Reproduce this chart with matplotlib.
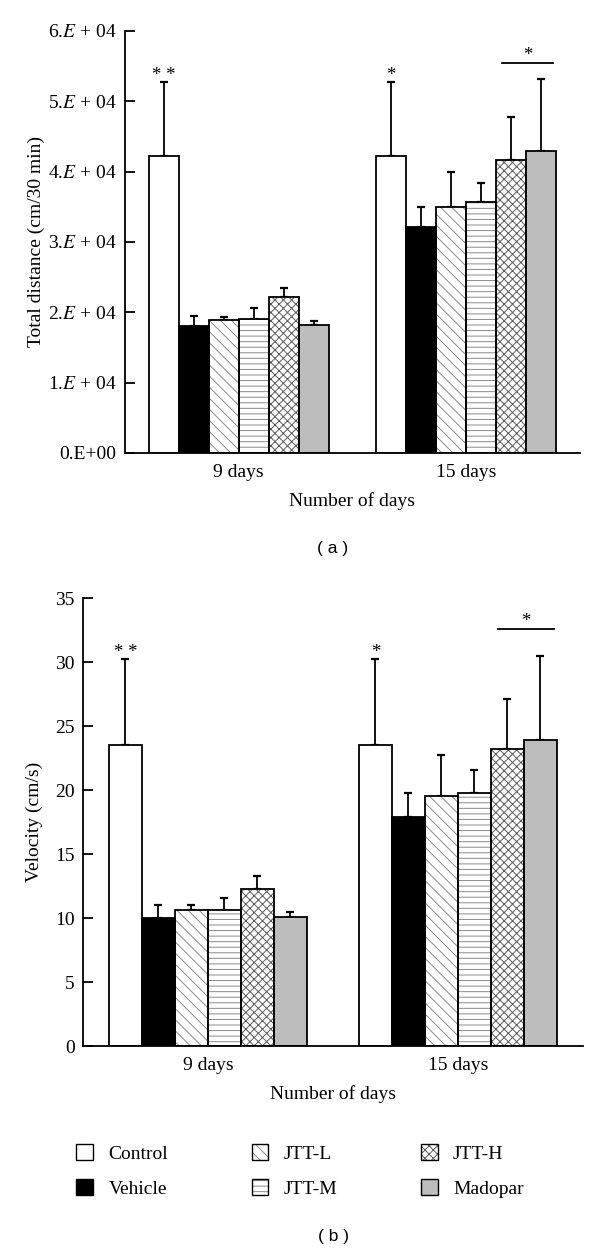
import matplotlib
matplotlib.use('Agg')
import matplotlib.pyplot as plt
import numpy as np
from matplotlib.patches import Patch

plt.rcParams['font.family'] = ['Liberation Serif', 'DejaVu Serif']
plt.rcParams['mathtext.fontset'] = 'stix'
plt.rcParams['hatch.linewidth'] = 0.7

# Data
groups = ['9 days', '15 days']
treatments = ['Control', 'Vehicle', 'JTT-L', 'JTT-M', 'JTT-H', 'Madopar']

# (a) total distance, cm/30 min
dist_9 = [42200, 18000, 18900, 19100, 22200, 18200]
dist_9_sd = [10500, 1500, 400, 1500, 1300, 600]
dist_15 = [42200, 32100, 35000, 35700, 41600, 42900]
dist_15_sd = [10500, 2900, 5000, 2700, 6200, 10300]

# (b) velocity, cm/s
vel_9 = [23.5, 10.0, 10.6, 10.6, 12.3, 10.1]
vel_9_sd = [6.7, 1.0, 0.4, 1.0, 1.0, 0.4]
vel_15 = [23.5, 17.9, 19.5, 19.8, 23.2, 23.9]
vel_15_sd = [6.7, 1.9, 3.2, 1.8, 3.9, 6.6]

dist_ticks = [0, 10000, 20000, 30000, 40000, 50000, 60000]
dist_ticklabels = ['0.E+00', '1.$E$ + 04', '2.$E$ + 04', '3.$E$ + 04',
                   '4.$E$ + 04', '5.$E$ + 04', '6.$E$ + 04']
vel_ticks = [0, 5, 10, 15, 20, 25, 30, 35]

# styles per treatment: face, hatch, hatch colour
faces = ['white', 'black', 'white', 'white', 'white', '#bdbdbd']
hatches = [None, None, '\\\\\\', '---', 'xxxx', None]
hatch_cols = ['none', 'none', '#8a8a8a', '#8a8a8a', '#5a5a5a', 'none']

width = 0.132
x = np.arange(len(groups))
FS = 14


def draw_panel(ax, vals_9, sd_9, vals_15, sd_15):
    means = np.array([vals_9, vals_15])
    sds = np.array([sd_9, sd_15])
    for i in range(len(treatments)):
        pos = x + (i - 2.5) * width
        ax.bar(pos, means[:, i], width, color=faces[i], hatch=hatches[i],
               edgecolor=hatch_cols[i], linewidth=0, zorder=2)
        ax.bar(pos, means[:, i], width, fill=False, edgecolor='black',
               linewidth=1.3, zorder=3)
        ax.errorbar(pos, means[:, i], yerr=[np.zeros(2), sds[:, i]], fmt='none',
                    ecolor='black', elinewidth=1.3, capsize=3, capthick=1.6, zorder=1)
    return means, sds


fig = plt.figure(figsize=(6, 12.53), dpi=100)

# ---- panel (a)
ax1 = fig.add_axes([0.2083, 0.6385, 0.7583, 0.3368])
m, s = draw_panel(ax1, dist_9, dist_9_sd, dist_15, dist_15_sd)
ax1.set_xlim(-0.5, 1.5)
ax1.set_ylim(0, 60000)
ax1.set_yticks(dist_ticks)
ax1.set_yticklabels(dist_ticklabels)
ax1.set_ylabel('Total distance (cm/30 min)', fontsize=FS, labelpad=2)

# ---- panel (b)
ax2 = fig.add_axes([0.1383, 0.1652, 0.8333, 0.3575])
m2, s2 = draw_panel(ax2, vel_9, vel_9_sd, vel_15, vel_15_sd)
ax2.set_xlim(-0.5, 1.5)
ax2.set_ylim(0, 35)
ax2.set_yticks(vel_ticks)
ax2.set_ylabel('Velocity (cm/s)', fontsize=FS, labelpad=9)

for ax, means, sds, bar_y in [(ax1, m, s, 55500), (ax2, m2, s2, 32.6)]:
    for sp in ['top', 'right']:
        ax.spines[sp].set_visible(False)
    ax.spines['left'].set_linewidth(1.3)
    ax.spines['bottom'].set_linewidth(1.3)
    ax.set_xticks(x)
    ax.set_xticklabels(groups, fontsize=FS)
    ax.tick_params(axis='x', length=0, pad=8)
    ax.tick_params(axis='y', direction='in', length=7, width=1.3, labelsize=FS, pad=6)
    ax.set_xlabel('Number of days', fontsize=FS, labelpad=8)
    # significance marks
    ax.annotate('* *', (x[0] - 2.5 * width, means[0, 0] + sds[0, 0]), xytext=(0, -1),
                textcoords='offset points', ha='center', va='bottom', fontsize=13.5)
    ax.annotate('*', (x[1] - 2.5 * width, means[1, 0] + sds[1, 0]), xytext=(0, -1),
                textcoords='offset points', ha='center', va='bottom', fontsize=13.5)
    x_l = x[1] + 1.5 * width - 0.3 * width
    x_r = x[1] + 2.5 * width + 0.4 * width
    ax.plot([x_l, x_r], [bar_y, bar_y], color='black', lw=1.3, clip_on=False)
    ax.annotate('*', ((x_l + x_r) / 2, bar_y), xytext=(0, -1), textcoords='offset points',
                ha='center', va='bottom', fontsize=13.5)

fig.text(0.555, 1 - 548 / 1253, '( a )', ha='center', va='center',
         fontsize=12.5, family='Liberation Sans')
fig.text(0.555, 1 - 1237 / 1253, '( b )', ha='center', va='center',
         fontsize=12.5, family='Liberation Sans')

# legend
handles = []
for i in range(len(treatments)):
    h1 = Patch(facecolor=faces[i], hatch=hatches[i], edgecolor=hatch_cols[i], linewidth=0)
    h2 = Patch(fill=False, edgecolor='black', linewidth=1.0)
    handles.append((h1, h2))
fig.legend(handles, treatments, loc='center', bbox_to_anchor=(0.50, 1 - 1171 / 1253),
           ncol=3, frameon=False, fontsize=FS, handlelength=0.85, handleheight=0.85,
           columnspacing=4.3, labelspacing=0.85, handletextpad=0.8)

fig.savefig('out.png', dpi=100)
